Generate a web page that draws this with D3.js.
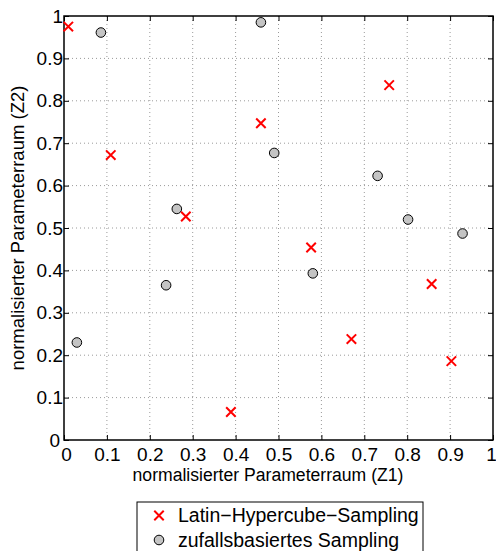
<!DOCTYPE html>
<html><head><meta charset="utf-8">
<script src="https://cdn.jsdelivr.net/npm/d3@7"></script>
<style>body{margin:0;background:#fff}svg{display:block}text{font-family:"Liberation Sans",Arial,sans-serif;fill:#000}</style>
</head><body><svg id="c" width="496" height="551"></svg>
<script>
const lhsX=[0.010,0.109,0.284,0.459,0.758,0.576,0.857,0.670,0.903,0.389];
const lhsY=[0.975,0.672,0.527,0.747,0.837,0.454,0.368,0.238,0.186,0.066];
const rndX=[0.086,0.263,0.459,0.490,0.731,0.802,0.929,0.580,0.238,0.030];
const rndY=[0.961,0.545,0.985,0.677,0.623,0.520,0.487,0.393,0.365,0.230];
const xTicks=[0,0.1,0.2,0.3,0.4,0.5,0.6,0.7,0.8,0.9,1];
const yTicks=[0,0.1,0.2,0.3,0.4,0.5,0.6,0.7,0.8,0.9,1];
const xTickLabels=["0","0.1","0.2","0.3","0.4","0.5","0.6","0.7","0.8","0.9","1"];
const yTickLabels=["0","0.1","0.2","0.3","0.4","0.5","0.6","0.7","0.8","0.9","1"];
const xLabel="normalisierter Parameterraum (Z1)";
const yLabel="normalisierter Parameterraum (Z2)";
const seriesNames=["Latin\u2212Hypercube\u2212Sampling","zufallsbasiertes Sampling"];

const L=64,R=493,T=16,B=440;
const svg=d3.select("#c");
const x=d3.scaleLinear().domain([0,1]).range([L,R]);
const y=d3.scaleLinear().domain([0,1]).range([B,T]);

// grid
const g=svg.append("g");
g.selectAll(".gx").data(xTicks.slice(1,-1)).join("line")
 .attr("x1",d=>x(d)).attr("x2",d=>x(d)).attr("y1",T).attr("y2",B)
 .attr("stroke","#9a9a9a").attr("stroke-width",1).attr("stroke-dasharray","1,3");
g.selectAll(".gy").data(yTicks.slice(1,-1)).join("line")
 .attr("y1",d=>y(d)).attr("y2",d=>y(d)).attr("x1",L).attr("x2",R)
 .attr("stroke","#9a9a9a").attr("stroke-width",1).attr("stroke-dasharray","1,3");

// axes (inward ticks, box)
const fs=19;
const ax=svg.append("g").attr("transform",`translate(0,${B})`)
 .call(d3.axisBottom(x).tickValues(xTicks).tickFormat((d,i)=>xTickLabels[i]).tickSizeInner(-5).tickSizeOuter(0).tickPadding(8));
const ay=svg.append("g").attr("transform",`translate(${L},0)`)
 .call(d3.axisLeft(y).tickValues(yTicks).tickFormat((d,i)=>yTickLabels[i]).tickSizeInner(-5).tickSizeOuter(0).tickPadding(1));
const at=svg.append("g").attr("transform",`translate(0,${T})`)
 .call(d3.axisTop(x).tickValues(xTicks).tickFormat("").tickSizeInner(-5).tickSizeOuter(0));
const ar=svg.append("g").attr("transform",`translate(${R},0)`)
 .call(d3.axisRight(y).tickValues(yTicks).tickFormat("").tickSizeInner(-5).tickSizeOuter(0));
[ax,ay,at,ar].forEach(a=>{a.select(".domain").remove();a.selectAll("line").attr("stroke","#000");
 a.selectAll("text").attr("font-size",fs).attr("font-family","Liberation Sans, Arial, sans-serif").attr("fill","#000");});
ax.selectAll("text").attr("dy","0.71em");
ax.selectAll(".tick").filter(d=>d===1).select("text").attr("dx",-2);
ax.selectAll(".tick").filter(d=>d===0).select("text").attr("dx",2);
ay.selectAll(".tick").filter(d=>d===0).select("text").attr("dx",-3);
svg.append("rect").attr("x",L).attr("y",T).attr("width",R-L).attr("height",B-T)
 .attr("fill","none").attr("stroke","#000").attr("stroke-width",1.5);

// axis labels
svg.append("text").attr("x",268).attr("y",481).attr("text-anchor","middle").attr("font-size",17.6).text(xLabel);
svg.append("text").attr("transform",`translate(24,228) rotate(-90)`).attr("text-anchor","middle").attr("font-size",18.5).text(yLabel);

// markers
const cross=d3.symbol().type(d3.symbolX).size(60);
const pts=svg.append("g");
pts.selectAll(".c").data(rndX.map((v,i)=>[v,rndY[i]])).join("circle")
 .attr("cx",d=>x(d[0])).attr("cy",d=>y(d[1])).attr("r",4.8)
 .attr("fill","#c4c4c4").attr("stroke","#000").attr("stroke-width",1);
pts.selectAll(".x").data(lhsX.map((v,i)=>[v,lhsY[i]])).join("path")
 .attr("d",cross).attr("transform",d=>`translate(${x(d[0])},${y(d[1])})`)
 .attr("fill","none").attr("stroke","#ff0000").attr("stroke-width",2);

// legend
const lg=svg.append("g");
lg.append("rect").attr("x",137).attr("y",502).attr("width",286).attr("height",70)
 .attr("fill","#fff").attr("stroke","#000").attr("stroke-width",1);
lg.append("path").attr("d",cross).attr("transform","translate(159,515.5)")
 .attr("fill","none").attr("stroke","#ff0000").attr("stroke-width",2);
lg.append("circle").attr("cx",159).attr("cy",540).attr("r",4.8)
 .attr("fill","#c4c4c4").attr("stroke","#000").attr("stroke-width",1);
lg.append("text").attr("x",178).attr("y",522).attr("font-size",19.5).text(seriesNames[0]);
lg.append("text").attr("x",178).attr("y",547).attr("font-size",19.5).text(seriesNames[1]);
</script></body></html>
